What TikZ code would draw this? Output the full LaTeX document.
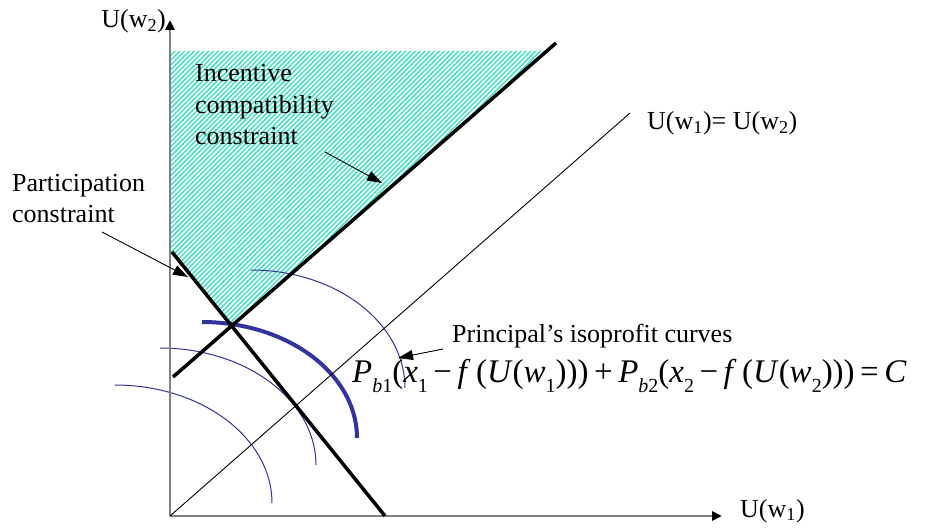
\documentclass[tikz,border=0pt]{standalone}
\usepackage{fontspec}
\setmainfont{Liberation Serif}
\usetikzlibrary{arrows.meta,patterns.meta}
\definecolor{hatch}{RGB}{64,224,192}
\definecolor{arcblue}{RGB}{51,51,160}
\definecolor{axisgray}{RGB}{128,128,128}
\newcommand\sbs[1]{\raisebox{-0.3em}{\fontsize{20}{20}\selectfont #1}}
\newcommand\mv[1]{\textit{#1}}
\begin{document}
\begin{tikzpicture}[x=1pt,y=-1pt,
  lbl/.style={inner sep=0pt,font=\fontsize{26}{31.5}\selectfont},
  axisline/.style={draw=axisgray,line width=2.5pt,-{Triangle[length=10pt,width=9pt,color=black]}},
  constr/.style={line width=3.5pt},
  diag/.style={line width=0.9pt},
  thinarc/.style={arcblue,line width=1pt},
  thickarc/.style={arcblue,line width=4pt},
  pointer/.style={line width=0.9pt,-{Triangle[length=15pt,width=10pt]}},
  hatchfill/.style={pattern={Lines[angle=45,distance=3.4pt,line width=1.5pt]},pattern color=hatch},
]
\useasboundingbox (0,0) rectangle (930,529);
% key points
\coordinate (O) at (170,516);
\coordinate (Ytop) at (170,20);
\coordinate (Xend) at (722,516);
\coordinate (ICa) at (173,377);
\coordinate (ICb) at (556,43);
\coordinate (PCa) at (172,252);
\coordinate (PCb) at (385,516);
\coordinate (Dend) at (630,113);
\coordinate (HTL) at (170,51);
\coordinate (HTR0) at (700,51);
\coordinate (X) at (intersection of ICa--ICb and PCa--PCb);
\coordinate (HTR) at (intersection of ICa--ICb and HTL--HTR0);
% hatched region
\fill[hatchfill] (HTL) -- (HTR) -- (X) -- (PCa) -- (170,252) -- cycle;
% isoprofit curves
\draw[thinarc] plot[domain=90:0,samples=50] ({251+154*cos(\x)},{388-118*sin(\x)});
\draw[thinarc] plot[domain=90:0,samples=50] ({160+156*cos(\x)},{465-117*sin(\x)});
\draw[thinarc] plot[domain=90:0,samples=50] ({115+157*cos(\x)},{503-118*sin(\x)});
\draw[thickarc] plot[domain=90:0,samples=50] ({202+155*cos(\x)},{438-116*sin(\x)});
% axes
\draw[axisline] (O) -- (Ytop);
\draw[axisline] (O) -- (Xend);
% 45 degree line
\draw[diag] (O) -- (Dend);
% constraints
\draw[constr] (ICa) -- (ICb);
\draw[constr] (PCa) -- (PCb);
% labels
\node[lbl,anchor=base east] (uw2) at (166,28) {U(w\textsubscript{2})};
\node[lbl,anchor=base west] (uw1) at (740,517) {U(w\textsubscript{1})};
\node[lbl,anchor=base west] (eql) at (647,130) {U(w\textsubscript{1})= U(w\textsubscript{2})};
\node[lbl,align=left,anchor=base west] (icl) at (195,145) {Incentive\\compatibility\\constraint};
\node[lbl,align=left,anchor=base west] (pcl) at (12,223) {Participation\\constraint};
\node[lbl,anchor=base west] (ipl) at (452,343) {Principal’s isoprofit curves};
\node[inner sep=0pt,anchor=base west,font=\fontsize{33}{40}\selectfont] (form) at (352,383)
  {\mv{P}\sbs{\mv{b}1}(\mv{x}\sbs{1}\,−\,\mv{f}\,(\mv{U}(\mv{w}\sbs{1})))\,+\,\mv{P}\sbs{\mv{b}2}(\mv{x}\sbs{2}\,−\,\mv{f}\,(\mv{U}(\mv{w}\sbs{2})))\,=\,\mv{C}};
% pointers
\coordinate (icp1) at (325,152);
\coordinate (icp2) at (382,183);
\coordinate (pcp1) at (102,232);
\coordinate (pcp2) at (188,277);
\coordinate (ipp1) at (443,349);
\coordinate (ipp2) at (398,358);
\draw[pointer] (icp1) -- (icp2);
\draw[pointer] (pcp1) -- (pcp2);
\draw[pointer] (ipp1) -- (ipp2);
\end{tikzpicture}
\end{document}
